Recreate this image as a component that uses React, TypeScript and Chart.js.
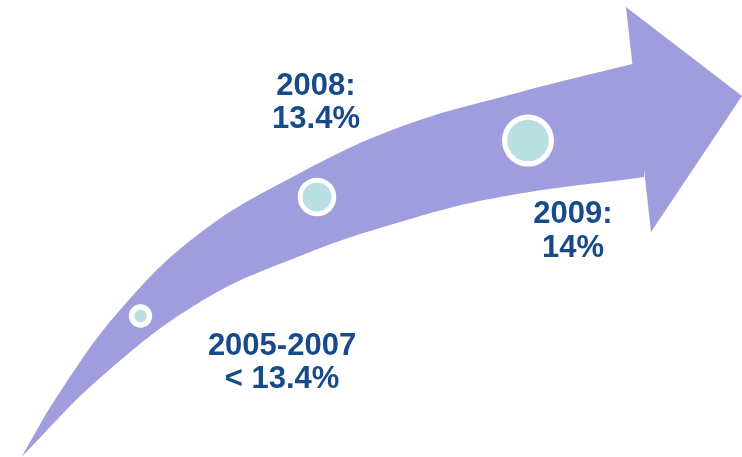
import { useEffect, useRef } from "react";
import { Chart, registerables } from "chart.js";

Chart.register(...registerables);

// Arrow body: upper and lower edges (chart units = picture units)
const upperEdgeX = [21.7, 60, 120, 200, 300, 400, 513, 644];
const upperEdgeY = [456.7, 392, 310, 233, 173, 127, 94, 61];
const lowerEdgeX = [21.7, 100, 200, 300, 400, 500, 644];
const lowerEdgeY = [456.7, 378, 302, 256, 222, 197, 177];

// Arrow head triangle
const headX = [626, 742, 651, 626];
const headY = [7, 96, 232, 7];

// Milestones
const periods = ["2005-2007", "2008", "2009"];
const milestoneX = [140.5, 317, 528];
const milestoneY = [316, 197, 140.5];
const milestoneR = [9, 16.9, 23.4];
const labelLines = [
  ["2005-2007", "< 13.4%"],
  ["2008:", "13.4%"],
  ["2009:", "14%"],
];
const labelX = [282, 316, 573];
const labelY = [355, 95, 223.3];

const ARROW = "#9f9dde";
const TEAL = "#bae0e3";
const TEXT = "#174a8a";

const toPoints = (xs: number[], ys: number[]) => xs.map((x, i) => ({ x, y: ys[i] }));

const labelPlugin = {
  id: "milestoneLabels",
  afterDatasetsDraw(chart: any) {
    const { ctx, scales } = chart;
    ctx.save();
    ctx.fillStyle = TEXT;
    ctx.font = "bold 31px 'Liberation Sans', Arial, sans-serif";
    ctx.textAlign = "center";
    ctx.textBaseline = "alphabetic";
    labelLines.forEach((lines, i) => {
      const px = scales.x.getPixelForValue(labelX[i]);
      lines.forEach((t, j) => {
        const py = scales.y.getPixelForValue(labelY[i] + j * 33.3);
        ctx.fillText(t, px, py);
      });
    });
    ctx.restore();
  },
};

export default function App() {
  const ref = useRef<HTMLCanvasElement>(null);
  useEffect(() => {
    if (!ref.current) return;
    const chart = new Chart(ref.current, {
      type: "scatter",
      data: {
        datasets: [
          {
            type: "line",
            label: "upper",
            data: toPoints(upperEdgeX, upperEdgeY),
            showLine: true,
            fill: "+1",
            backgroundColor: ARROW,
            borderColor: "transparent",
            borderWidth: 0,
            pointRadius: 0,
            tension: 0.4,
            order: 2,
            clip: false,
          } as any,
          {
            type: "line",
            label: "lower",
            data: toPoints(lowerEdgeX, lowerEdgeY),
            showLine: true,
            fill: false,
            borderColor: "transparent",
            borderWidth: 0,
            pointRadius: 0,
            tension: 0.4,
            order: 2,
            clip: false,
          } as any,
          {
            type: "line",
            label: "head",
            data: toPoints(headX, headY),
            showLine: true,
            fill: "shape",
            backgroundColor: ARROW,
            borderColor: "transparent",
            borderWidth: 0,
            pointRadius: 0,
            tension: 0,
            order: 2,
            clip: false,
          } as any,
          {
            type: "scatter",
            label: "milestones",
            data: periods.map((_, i) => ({ x: milestoneX[i], y: milestoneY[i] })),
            pointRadius: milestoneR,
            pointHoverRadius: milestoneR,
            pointBackgroundColor: TEAL,
            pointBorderColor: "#ffffff",
            pointBorderWidth: [5.4, 4.8, 5.2],
            showLine: false,
            order: 0,
            clip: false,
          } as any,
        ],
      },
      options: {
        animation: false,
        responsive: false,
        layout: { padding: 0, autoPadding: false },
        events: [],
        scales: {
          x: { type: "linear", min: 0, max: 742, display: false },
          y: { type: "linear", min: 0, max: 457, reverse: true, display: false },
        },
        plugins: {
          legend: { display: false },
          tooltip: { enabled: false },
        },
      },
      plugins: [labelPlugin],
    });
    return () => chart.destroy();
  }, []);
  return (
    <div style={{ position: "absolute", left: 0, top: 0, width: 742, height: 457, background: "#fff" }}>
      <canvas ref={ref} width={742} height={457} style={{ display: "block" }} />
    </div>
  );
}
